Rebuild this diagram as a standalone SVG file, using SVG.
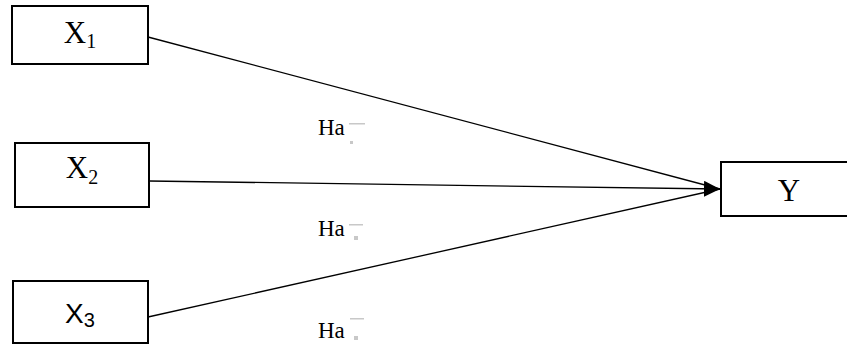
<svg xmlns="http://www.w3.org/2000/svg" width="847" height="347" viewBox="0 0 847 347">
<defs>
<style>
.box{fill:#fff;stroke:#000;stroke-width:2}
.lbl{font-family:"Liberation Serif","DejaVu Serif",serif;font-size:31px;fill:#000;text-anchor:middle}
.sub{font-size:20px}
.sans{font-family:"Liberation Sans","DejaVu Sans",sans-serif;font-size:28px}
.edge{stroke:#000;stroke-width:1.3;fill:none}
.ha{font-family:"Liberation Serif","DejaVu Serif",serif;font-size:23px;fill:#000}
.smudge{fill:#c8c8c8}
</style>
<marker id="arr" markerWidth="16" markerHeight="16" refX="16" refY="8" orient="auto" markerUnits="userSpaceOnUse">
<path d="M0,0 L16,8 L0,16 Z" fill="#000"/>
</marker>
</defs>
<rect width="847" height="347" fill="#fff"/>
<g id="connectors">
<line class="edge" x1="148" y1="37" x2="720" y2="189"/>
<line class="edge" x1="149" y1="181" x2="720" y2="189" marker-end="url(#arr)"/>
<line class="edge" x1="148" y1="317" x2="720" y2="189"/>
</g>
<g id="X1">
<rect class="box" x="12" y="6" width="136" height="58"/>
<text class="lbl" x="80" y="43">X<tspan class="sub" dy="5">1</tspan></text>
</g>
<g id="X2">
<rect class="box" x="15" y="143" width="134" height="64"/>
<text class="lbl" x="82" y="178">X<tspan class="sub" dy="6">2</tspan></text>
</g>
<g id="X3">
<rect class="box" x="13" y="281" width="135" height="62"/>
<text class="lbl sans" x="80" y="323">X<tspan class="sub" dy="4">3</tspan></text>
</g>
<g id="Y">
<rect class="box" x="721" y="162" width="136" height="54"/>
<text class="lbl" x="789" y="201">Y</text>
</g>
<g id="labels">
<text class="ha" x="318" y="135">Ha</text>
<rect class="smudge" x="349" y="123" width="16" height="1.5"/>
<rect class="smudge" x="350" y="141" width="3" height="3"/>
<text class="ha" x="318" y="236">Ha</text>
<rect class="smudge" x="349" y="224" width="14" height="1.5"/>
<rect class="smudge" x="354" y="236" width="4" height="4"/>
<text class="ha" x="318" y="338">Ha</text>
<rect class="smudge" x="350" y="318" width="14" height="1.5"/>
<rect class="smudge" x="354" y="336" width="4" height="4"/>
</g>
</svg>
